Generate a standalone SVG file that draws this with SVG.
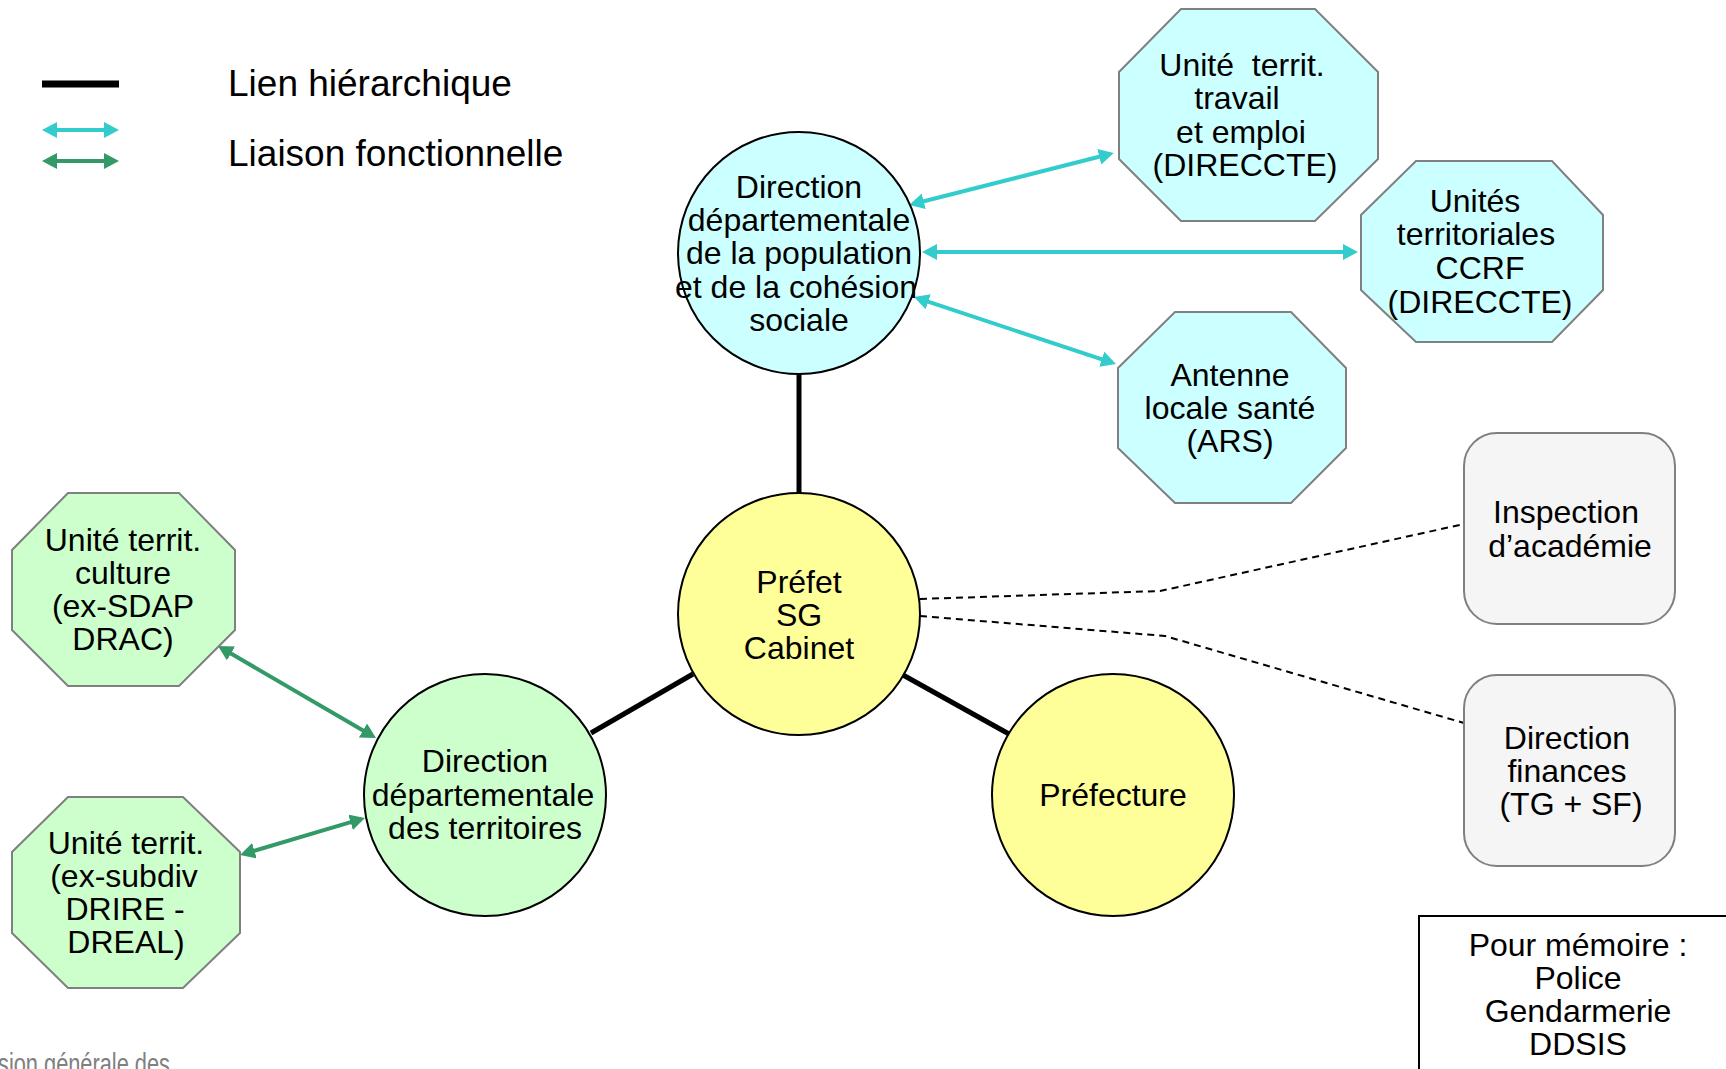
<svg xmlns="http://www.w3.org/2000/svg" width="1726" height="1069" viewBox="0 0 1726 1069">
<style>
text{font-family:"Liberation Sans",Arial,sans-serif;fill:#000;text-anchor:middle}
.t{font-size:32px}
.lg{font-size:37px;text-anchor:start}
.circ{stroke:#000;stroke-width:2}
.oct{stroke:#808080;stroke-width:2}
.cy{fill:#CCFFFF}.ye{fill:#FFFF99}.gr{fill:#CCFFCC}
.box{fill:#F5F5F5;stroke:#808080;stroke-width:2}
.hier{stroke:#000;stroke-width:5;fill:none}
.cyl{stroke:#33CCCC;stroke-width:4;fill:none;marker-start:url(#ac);marker-end:url(#ac)}
.grl{stroke:#339966;stroke-width:4;fill:none;marker-start:url(#ag);marker-end:url(#ag)}
.dash{stroke:#000;stroke-width:2;fill:none;stroke-dasharray:7 5}
</style>
<defs>
<marker id="ac" markerUnits="userSpaceOnUse" markerWidth="16" markerHeight="16" refX="9" refY="8" orient="auto-start-reverse" viewBox="0 0 16 16"><path d="M0,0 L15,8 L0,16 z" fill="#33CCCC"/></marker>
<marker id="ag" markerUnits="userSpaceOnUse" markerWidth="16" markerHeight="16" refX="9" refY="8" orient="auto-start-reverse" viewBox="0 0 16 16"><path d="M0,0 L15,8 L0,16 z" fill="#339966"/></marker>
</defs>
<rect width="1726" height="1069" fill="#fff"/>

<g id="legend">
<line x1="42" y1="84" x2="119" y2="84" stroke="#000" stroke-width="7"/>
<line class="cyl" x1="48" y1="130" x2="113" y2="130"/>
<line class="grl" x1="48" y1="161" x2="113" y2="161"/>
<text class="lg" x="228" y="96">Lien hiérarchique</text>
<text class="lg" x="228" y="166">Liaison fonctionnelle</text>
</g>

<g id="connectors">
<line class="hier" x1="799" y1="374" x2="799" y2="493"/>
<line class="hier" x1="693" y1="674" x2="591" y2="733"/>
<line class="hier" x1="903" y1="675" x2="1009" y2="734"/>
<line class="cyl" x1="915" y1="203.5" x2="1108" y2="154.5"/>
<line class="cyl" x1="928" y1="252" x2="1352" y2="252"/>
<line class="cyl" x1="919.7" y1="298.9" x2="1110.3" y2="362.1"/>
<line class="grl" x1="223.2" y1="649" x2="370.8" y2="735"/>
<line class="grl" x1="245.8" y1="853.3" x2="359.2" y2="819.7"/>
<polyline class="dash" points="920,599 1160,591 1464,524"/>
<polyline class="dash" points="920,616 1165,636 1464,723"/>
</g>

<g id="ddpp">
<circle class="circ cy" cx="799" cy="253" r="121"/>
<text class="t" x="799" y="198">Direction</text>
<text class="t" x="799" y="231">départementale</text>
<text class="t" x="799" y="264">de la population</text>
<text class="t" x="796" y="298">et de la cohésion</text>
<text class="t" x="799" y="331">sociale</text>
</g>

<g id="prefet">
<circle class="circ ye" cx="799" cy="614" r="121"/>
<text class="t" x="799" y="593">Préfet</text>
<text class="t" x="799" y="626">SG</text>
<text class="t" x="799" y="659">Cabinet</text>
</g>

<g id="prefecture">
<circle class="circ ye" cx="1113" cy="795" r="121"/>
<text class="t" x="1113" y="806">Préfecture</text>
</g>

<g id="ddt">
<circle class="circ gr" cx="485" cy="795" r="121"/>
<text class="t" x="485" y="772">Direction</text>
<text class="t" x="483" y="806">départementale</text>
<text class="t" x="485" y="839">des territoires</text>
</g>

<g id="ut-travail">
<polygon class="oct cy" points="1181,9 1315,9 1378,72 1378,159 1315,221 1181,221 1119,159 1119,72"/>
<text class="t" x="1242" y="76" xml:space="preserve">Unité  territ.</text>
<text class="t" x="1237" y="109">travail</text>
<text class="t" x="1241" y="143">et emploi</text>
<text class="t" x="1245" y="176">(DIRECCTE)</text>
</g>

<g id="ut-ccrf">
<polygon class="oct cy" points="1416,161 1552,161 1603,215 1603,290 1552,342 1416,342 1361,290 1361,215"/>
<text class="t" x="1475" y="212">Unités</text>
<text class="t" x="1476" y="245">territoriales</text>
<text class="t" x="1480" y="279">CCRF</text>
<text class="t" x="1480" y="313">(DIRECCTE)</text>
</g>

<g id="ars">
<polygon class="oct cy" points="1175,312 1291,312 1346,368 1346,448 1291,503 1175,503 1118,448 1118,368"/>
<text class="t" x="1230" y="386">Antenne</text>
<text class="t" x="1230" y="419">locale santé</text>
<text class="t" x="1230" y="452">(ARS)</text>
</g>

<g id="ut-culture">
<polygon class="oct gr" points="68,493 179,493 235,550 235,630 179,686 68,686 12,630 12,550"/>
<text class="t" x="123" y="551">Unité territ.</text>
<text class="t" x="123" y="584">culture</text>
<text class="t" x="123" y="617">(ex-SDAP</text>
<text class="t" x="123" y="650">DRAC)</text>
</g>

<g id="ut-drire">
<polygon class="oct gr" points="68,797 183,797 240,852 240,933 183,988 68,988 12,933 12,852"/>
<text class="t" x="126" y="854">Unité territ.</text>
<text class="t" x="124" y="887">(ex-subdiv</text>
<text class="t" x="125" y="920">DRIRE -</text>
<text class="t" x="126" y="953">DREAL)</text>
</g>

<g id="inspection">
<rect class="box" x="1464" y="433" width="211" height="191" rx="33" ry="33"/>
<text class="t" x="1566" y="523">Inspection</text>
<text class="t" x="1570" y="557">d’académie</text>
</g>

<g id="finances">
<rect class="box" x="1464" y="675" width="211" height="191" rx="33" ry="33"/>
<text class="t" x="1567" y="749">Direction</text>
<text class="t" x="1567" y="782">finances</text>
<text class="t" x="1571" y="815">(TG + SF)</text>
</g>

<g id="memoire">
<rect x="1419" y="916" width="320" height="170" fill="#fff" stroke="#000" stroke-width="2"/>
<text class="t" x="1578" y="956">Pour mémoire :</text>
<text class="t" x="1578" y="989">Police</text>
<text class="t" x="1578" y="1022">Gendarmerie</text>
<text class="t" x="1578" y="1055">DDSIS</text>
</g>

<g id="footer">
<text x="-2" y="1074" style="font-size:30px;fill:#808080;text-anchor:start;font-stretch:condensed" textLength="172" lengthAdjust="spacingAndGlyphs">sion générale des</text>
</g>
</svg>
